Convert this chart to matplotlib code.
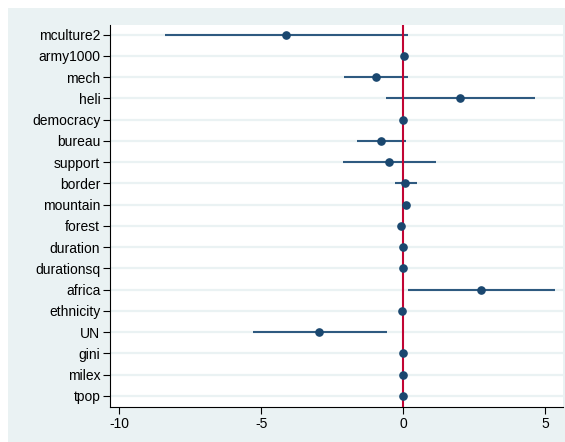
import matplotlib
matplotlib.use("Agg")
import matplotlib.pyplot as plt
from matplotlib.patches import Rectangle

# Koeffizienten und Konfidenzintervalle
names = ["mculture2", "army1000", "mech", "heli", "democracy", "bureau", "support",
         "border", "mountain", "forest", "duration", "durationsq", "africa",
         "ethnicity", "UN", "gini", "milex", "tpop"]
coef = [-4.12, 0.03, -0.96, 2.01, -0.01, -0.77, -0.50, 0.07, 0.09, -0.06,
        -0.01, 0.00, 2.75, -0.04, -2.95, -0.02, 0.01, 0.01]
ci_lo = [-8.38, 0.00, -2.09, -0.60, -0.05, -1.63, -2.12, -0.30, 0.06, -0.09,
         -0.03, -0.01, 0.18, -0.07, -5.27, -0.04, -0.01, -0.01]
ci_hi = [0.16, 0.06, 0.16, 4.65, 0.03, 0.11, 1.15, 0.48, 0.12, -0.03,
         0.01, 0.01, 5.35, -0.01, -0.57, 0.00, 0.03, 0.03]

bg = "#eaf2f3"
navy = "#1a476f"

plt.rcParams["font.family"] = ["Liberation Sans", "DejaVu Sans"]
fig = plt.figure(figsize=(5.65, 4.42), dpi=100, facecolor="white")
# hellblauer Hintergrund mit schmalem weissen Rand oben/links
fig.add_artist(Rectangle((8 / 565, 0), 1, 1 - 8 / 442, transform=fig.transFigure,
                         facecolor=bg, edgecolor="none", zorder=-1))
ax = fig.add_axes([110 / 565, 1 - 407 / 442, 453 / 565, 382 / 442])
ax.set_zorder(1)
ax.set_facecolor("white")

ys = list(range(len(names)))
for y in ys:
    ax.axhline(y, color=bg, lw=1.6, zorder=1)

ax.hlines(ys, ci_lo, ci_hi, color="#2e5a80", lw=1.5, zorder=2)
ax.axvline(0, color="#c10534", lw=1.5, zorder=3)
ax.plot(coef, ys, "o", color=navy, markersize=5.2, zorder=4)

ax.set_yticks(ys)
ax.set_yticklabels(names, fontsize=10)
ax.set_xticks([-10, -5, 0, 5])
ax.set_xticklabels(["-10", "-5", "0", "5"], fontsize=10)
ax.set_xlim(-10.32, 5.63)
ax.set_ylim(17.52, -0.45)

ax.spines["top"].set_visible(False)
ax.spines["right"].set_visible(False)
ax.spines["left"].set_color("black")
ax.spines["bottom"].set_color("black")
ax.tick_params(axis="both", direction="out", length=5, width=0.8, colors="black", pad=2)

fig.savefig("out.png", dpi=100, facecolor="white")
